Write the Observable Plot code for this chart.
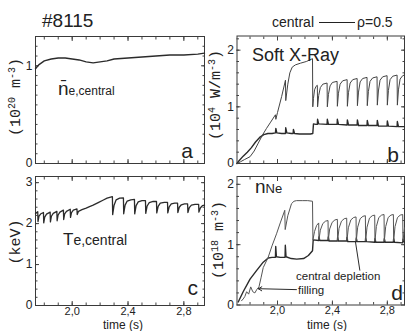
<!DOCTYPE html>
<html><head><meta charset="utf-8">
<script src="https://cdn.jsdelivr.net/npm/d3@7"></script>
<script src="https://cdn.jsdelivr.net/npm/@observablehq/plot@0.6"></script>
<style>
body{margin:0;background:#fff;}
#wrap{position:relative;width:405px;height:331px;overflow:hidden;background:#fff;}
#wrap svg{position:absolute;left:0;top:0;}
</style></head><body><div id="wrap"></div>
<script>
// ---------- data (time in s) ----------
const xDomainLeft = [1.737, 2.948];
const xDomainRight = [1.705, 2.925];
const xMajorTicks = [2.0, 2.4, 2.8];
const xMinorTicks = [1.8, 1.9, 2.0, 2.1, 2.2, 2.3, 2.4, 2.5, 2.6, 2.7, 2.8, 2.9];

const yMajorA = [0, 1];
const yMinorA = [0.1, 0.2, 0.3, 0.4, 0.5, 0.6, 0.7, 0.8, 0.9, 1.0, 1.1, 1.2];
const yMajorB = [0, 1, 2];
const yMinorB = [0.2, 0.4, 0.6, 0.8, 1.0, 1.2, 1.4, 1.6, 1.8, 2.0, 2.2];
const yMajorC = [0, 1, 2, 3];
const yMinorC = [0.2, 0.4, 0.6, 0.8, 1.0, 1.2, 1.4, 1.6, 1.8, 2.0, 2.2, 2.4, 2.6, 2.8, 3.0];
const yMajorD = [0, 1, 2];
const yMinorD = [0.2, 0.4, 0.6, 0.8, 1.0, 1.2, 1.4, 1.6, 1.8, 2.0];

// (a) line-averaged central density, 1e20 m^-3
const neCentral = [[1.737,0.97],[1.76,1.01],[1.80,1.05],[1.85,1.07],[1.90,1.08],[1.95,1.08],[2.00,1.07],[2.05,1.06],[2.10,1.04],[2.15,1.03],[2.20,1.04],[2.25,1.05],[2.30,1.07],[2.40,1.08],[2.50,1.09],[2.60,1.10],[2.70,1.11],[2.80,1.11],[2.90,1.12],[2.948,1.13]];

// (b) soft X-ray emissivity, 1e4 W/m^3
const sxrCentral = [[1.705,0.0],[1.73,0.03],[1.76,0.07],[1.80,0.12],[1.83,0.22],[1.86,0.36],[1.89,0.50],[1.92,0.62],[1.95,0.73],[1.985,0.86],[1.988,0.78],[2.00,0.90],[2.03,1.18],[2.058,1.47],[2.060,1.11],[2.075,1.40],[2.09,1.60],[2.107,1.70],[2.13,1.74],[2.167,1.77],[2.21,1.80],[2.255,1.85],[2.257,1.00],
[2.262,1.15],[2.270,1.30],[2.28,1.36],[2.290,1.38],
[2.292,1.00],[2.300,1.20],[2.312,1.34],[2.33,1.40],[2.361,1.42],
[2.363,1.00],[2.371,1.22],[2.383,1.37],[2.40,1.43],[2.434,1.45],
[2.436,1.01],[2.444,1.24],[2.456,1.40],[2.475,1.46],[2.507,1.48],
[2.509,1.01],[2.517,1.25],[2.529,1.42],[2.548,1.48],[2.580,1.50],
[2.582,1.02],[2.590,1.26],[2.602,1.44],[2.62,1.50],[2.652,1.52],
[2.654,1.02],[2.662,1.27],[2.674,1.45],[2.693,1.51],[2.725,1.53],
[2.727,1.03],[2.735,1.28],[2.747,1.47],[2.766,1.53],[2.798,1.55],
[2.800,1.03],[2.808,1.29],[2.820,1.48],[2.839,1.54],[2.871,1.56],
[2.873,1.03],[2.881,1.30],[2.893,1.49],[2.912,1.55],[2.925,1.56]];
const sxrRho05 = [[1.705,0.0],[1.72,0.05],[1.75,0.13],[1.78,0.20],[1.81,0.28],[1.84,0.38],[1.87,0.46],[1.90,0.51],[1.93,0.53],[1.96,0.53],[1.985,0.54],[1.988,0.62],[1.995,0.54],[2.03,0.53],[2.058,0.53],[2.060,0.63],[2.068,0.54],[2.10,0.53],[2.114,0.53],[2.116,0.60],[2.124,0.53],[2.16,0.52],[2.20,0.52],[2.24,0.52],[2.257,0.53],[2.262,0.70],[2.28,0.69],[2.290,0.69],[2.292,0.78],[2.30,0.70],[2.361,0.69],[2.363,0.78],[2.371,0.69],[2.434,0.69],[2.436,0.78],[2.444,0.69],[2.507,0.68],[2.509,0.77],[2.517,0.68],[2.580,0.68],[2.582,0.77],[2.590,0.67],[2.652,0.67],[2.654,0.76],[2.662,0.67],[2.725,0.67],[2.727,0.76],[2.735,0.66],[2.798,0.66],[2.800,0.75],[2.808,0.66],[2.871,0.65],[2.873,0.74],[2.881,0.65],[2.925,0.65]];

// (c) central electron temperature, keV
const teCentral = [[1.737,2.24],[1.745,2.27],[1.753,2.29],[1.755,2.05],[1.762,2.18],[1.775,2.24],[1.794,2.27],
[1.796,2.02],[1.803,2.16],[1.816,2.23],[1.842,2.28],
[1.844,2.04],[1.851,2.18],[1.864,2.25],[1.890,2.30],
[1.892,2.07],[1.899,2.21],[1.912,2.28],[1.937,2.33],
[1.939,2.10],[1.946,2.24],[1.959,2.30],[1.986,2.35],
[1.988,2.15],[1.995,2.27],[2.008,2.33],[2.034,2.36],
[2.036,2.22],[2.045,2.30],[2.07,2.34],[2.10,2.38],[2.12,2.41],[2.15,2.45],[2.19,2.52],[2.22,2.57],[2.25,2.62],[2.288,2.66],
[2.290,2.22],[2.300,2.45],[2.315,2.58],[2.340,2.62],[2.367,2.63],
[2.369,2.24],[2.379,2.45],[2.394,2.55],[2.420,2.58],[2.446,2.59],
[2.448,2.24],[2.458,2.44],[2.473,2.53],[2.500,2.56],[2.525,2.56],
[2.527,2.25],[2.537,2.43],[2.552,2.51],[2.580,2.54],[2.604,2.54],
[2.606,2.26],[2.616,2.42],[2.631,2.50],[2.660,2.52],[2.683,2.52],
[2.685,2.26],[2.695,2.41],[2.710,2.48],[2.735,2.50],[2.755,2.50],
[2.757,2.27],[2.767,2.40],[2.782,2.46],[2.805,2.48],[2.827,2.48],
[2.829,2.27],[2.839,2.39],[2.854,2.45],[2.880,2.47],[2.906,2.47],
[2.908,2.28],[2.918,2.38],[2.933,2.44],[2.948,2.45]];

// (d) neon density, 1e18 m^-3
const nNeCentral = [[1.738,0.07],[1.75,0.10],[1.762,0.14],[1.775,0.22],[1.79,0.18],[1.805,0.30],[1.82,0.22],[1.835,0.20],[1.85,0.26],[1.865,0.30],[1.88,0.45],[1.896,0.62],[1.932,0.79],[1.96,0.98],[1.993,1.18],[2.02,1.36],[2.053,1.57],[2.056,1.25],[2.075,1.48],[2.102,1.68],[2.12,1.72],[2.138,1.73],[2.18,1.73],[2.22,1.73],[2.255,1.72],
[2.258,1.08],[2.27,1.22],[2.285,1.32],[2.30,1.36],
[2.302,1.08],[2.312,1.24],[2.33,1.35],[2.35,1.39],[2.368,1.40],
[2.370,1.08],[2.380,1.26],[2.398,1.37],[2.418,1.41],[2.436,1.42],
[2.438,1.07],[2.448,1.27],[2.466,1.39],[2.486,1.43],[2.504,1.44],
[2.506,1.07],[2.516,1.28],[2.534,1.41],[2.554,1.45],[2.572,1.46],
[2.574,1.07],[2.584,1.29],[2.602,1.43],[2.622,1.47],[2.640,1.48],
[2.642,1.06],[2.652,1.29],[2.670,1.44],[2.690,1.48],[2.708,1.49],
[2.710,1.06],[2.720,1.30],[2.738,1.45],[2.758,1.49],[2.776,1.50],
[2.778,1.06],[2.788,1.30],[2.806,1.45],[2.826,1.49],[2.844,1.50],
[2.846,1.06],[2.856,1.30],[2.874,1.45],[2.894,1.49],[2.912,1.50],
[2.914,1.06],[2.925,1.28]];
const nNeRho05 = [[1.714,0.05],[1.75,0.22],[1.80,0.43],[1.847,0.57],[1.896,0.71],[1.932,0.78],[1.96,0.79],[1.985,0.79],[1.987,0.97],[1.992,0.80],[2.02,0.79],[2.055,0.79],[2.057,0.99],[2.062,0.80],[2.10,0.77],[2.14,0.76],[2.19,0.77],[2.225,0.82],[2.255,0.90],[2.260,1.08],[2.30,1.07],[2.302,1.13],[2.308,1.07],[2.368,1.07],[2.370,1.13],[2.376,1.06],[2.436,1.06],[2.438,1.12],[2.444,1.06],[2.504,1.06],[2.506,1.12],[2.512,1.05],[2.572,1.05],[2.574,1.11],[2.580,1.05],[2.640,1.05],[2.642,1.11],[2.648,1.05],[2.708,1.04],[2.710,1.10],[2.716,1.04],[2.776,1.04],[2.778,1.10],[2.784,1.04],[2.844,1.04],[2.846,1.10],[2.852,1.04],[2.912,1.03],[2.914,1.09],[2.925,1.04]];

// annotation anchors in panel d (data units)
const fillingArrow = [{x1: 2.138, y1: 0.255, x2: 1.86, y2: 0.27}];
const depletionPointer = [{x1: 2.60, y1: 0.57, x2: 2.567, y2: 1.06}];

// ---------- drawing ----------
const W = 405, H = 331;
const wrap = document.getElementById("wrap");
const INK = "#2b2b2b";
const commaFmt = d => d.toFixed(1).replace(".", ",");
const intFmt = d => String(d);

function panel({frame, xDomain, yDomain, yMajor, yMinor, xLabels, marks}) {
  const tickOpts = {stroke: "#444", tickFormat: () => "", label: null};
  const all = [
    Plot.axisY({anchor: "left", ticks: yMajor, tickSize: 0, tickPadding: 3, tickFormat: intFmt, label: null, fontSize: 12}),
    Plot.axisY({anchor: "left", ticks: yMinor, tickSize: -2.5, ...tickOpts}),
    Plot.axisY({anchor: "right", ticks: yMinor, tickSize: -2.5, ...tickOpts}),
    Plot.axisX({anchor: "bottom", ticks: xMinorTicks, tickSize: -2.5, ...tickOpts}),
    Plot.axisX({anchor: "top", ticks: xMinorTicks, tickSize: -2.5, ...tickOpts}),
    Plot.axisX({anchor: "bottom", ticks: xMajorTicks, tickSize: -4, ...tickOpts}),
    Plot.axisX({anchor: "top", ticks: xMajorTicks, tickSize: -4, ...tickOpts}),
    Plot.axisY({anchor: "left", ticks: yMajor, tickSize: -4, ...tickOpts}),
    Plot.axisY({anchor: "right", ticks: yMajor, tickSize: -4, ...tickOpts}),
  ];
  if (xLabels) all.push(Plot.axisX({anchor: "bottom", ticks: xMajorTicks, tickSize: 0, tickPadding: 1.5, tickFormat: commaFmt, label: null, fontSize: 11}));
  all.push(Plot.frame({stroke: "#3a3a3a", strokeWidth: 1}));
  all.push(...marks);
  const svg = Plot.plot({
    width: W, height: H,
    marginLeft: frame.left, marginRight: W - frame.right,
    marginTop: frame.top, marginBottom: H - frame.bottom,
    x: {domain: xDomain}, y: {domain: yDomain},
    style: {background: "transparent", overflow: "visible", color: "#222",
            fontFamily: "'Liberation Sans', Arial, sans-serif", fontSize: "12px"},
    marks: all
  });
  wrap.appendChild(svg);
}

panel({frame: {left: 35, right: 204, top: 36, bottom: 163}, xDomain: xDomainLeft, yDomain: [0, 1.3],
  yMajor: yMajorA, yMinor: yMinorA, xLabels: false,
  marks: [Plot.line(neCentral, {stroke: INK, strokeWidth: 1.4})]});

panel({frame: {left: 236.5, right: 404, top: 35.5, bottom: 163}, xDomain: xDomainRight, yDomain: [0, 2.25],
  yMajor: yMajorB, yMinor: yMinorB, xLabels: false,
  marks: [
    Plot.line(sxrRho05, {stroke: INK, strokeWidth: 1.4}),
    Plot.line(sxrCentral, {stroke: "#444", strokeWidth: 1})
  ]});

panel({frame: {left: 35, right: 204, top: 176, bottom: 305}, xDomain: xDomainLeft, yDomain: [0, 3.15],
  yMajor: yMajorC, yMinor: yMinorC, xLabels: true,
  marks: [Plot.line(teCentral, {stroke: INK, strokeWidth: 1.3})]});

panel({frame: {left: 236.5, right: 404, top: 176, bottom: 304.5}, xDomain: xDomainRight, yDomain: [0, 2.13],
  yMajor: yMajorD, yMinor: yMinorD, xLabels: true,
  marks: [
    Plot.line(nNeRho05, {stroke: INK, strokeWidth: 1.4}),
    Plot.line(nNeCentral, {stroke: "#555", strokeWidth: 1}),
    Plot.arrow(fillingArrow, {x1: "x1", y1: "y1", x2: "x2", y2: "y2", stroke: INK, strokeWidth: 1, headLength: 6}),
    Plot.link(depletionPointer, {x1: "x1", y1: "y1", x2: "x2", y2: "y2", stroke: INK, strokeWidth: 1})
  ]});

// ---------- text overlay ----------
const sans = "'Liberation Sans', Arial, sans-serif";
const serif = "'Liberation Mono', 'DejaVu Sans Mono', monospace";
const sup = (s) => `<tspan dy="-5" font-size="10">${s}</tspan>`;
const unsup = (s) => `<tspan dy="5">${s}</tspan>`;
const overlay = `
<svg width="${W}" height="${H}" xmlns="http://www.w3.org/2000/svg" style="position:absolute;left:0;top:0;overflow:visible" fill="#222">
  <text x="42" y="27" font-family="${sans}" font-size="19">#8115</text>
  <text x="272" y="27" font-family="${sans}" font-size="14">central</text>
  <line x1="319" x2="355" y1="22.5" y2="22.5" stroke="#222" stroke-width="1"/>
  <text x="357" y="27" font-family="${sans}" font-size="14">ρ=0.5</text>

  <text transform="translate(20,97) rotate(-90)" text-anchor="middle" font-family="${serif}" font-size="15">(10${sup("20")}${unsup(" m")}${sup("-3")}${unsup(")")}</text>
  <text transform="translate(220,95) rotate(-90)" text-anchor="middle" font-family="${serif}" font-size="15">(10${sup("4")}${unsup(" W/m")}${sup("-3")}${unsup(")")}</text>
  <text transform="translate(20,242) rotate(-90)" text-anchor="middle" font-family="${serif}" font-size="15">(keV)</text>
  <text transform="translate(223,240) rotate(-90)" text-anchor="middle" font-family="${serif}" font-size="15">(10${sup("18")}${unsup(" m")}${sup("-3")}${unsup(")")}</text>

  <text x="58" y="95" font-family="${sans}"><tspan font-size="19">n\u0304</tspan><tspan font-size="12">e,central</tspan></text>
  <text x="252" y="61" font-family="${sans}" font-size="18">Soft X-Ray</text>
  <text x="63" y="245" font-family="${sans}"><tspan font-size="17">T</tspan><tspan font-size="14">e,central</tspan></text>
  <text x="255" y="193" font-family="${sans}"><tspan font-size="19">n</tspan><tspan font-size="13">Ne</tspan></text>

  <text x="193" y="158" text-anchor="end" font-family="${sans}" font-size="21">a</text>
  <text x="399" y="162" text-anchor="end" font-family="${sans}" font-size="21">b</text>
  <text x="198" y="295" text-anchor="end" font-family="${sans}" font-size="21">c</text>
  <text x="403" y="300" text-anchor="end" font-family="${sans}" font-size="21">d</text>

  <text x="296" y="280" font-family="${sans}" font-size="11.5">central depletion</text>
  <text x="298" y="294" font-family="${sans}" font-size="11.5">filling</text>

  <text x="123" y="328.8" text-anchor="middle" font-family="${sans}" font-size="12">time (s)</text>
  <text x="327" y="328.8" text-anchor="middle" font-family="${sans}" font-size="12">time (s)</text>
</svg>`;
wrap.insertAdjacentHTML("beforeend", overlay);
</script></body></html>
